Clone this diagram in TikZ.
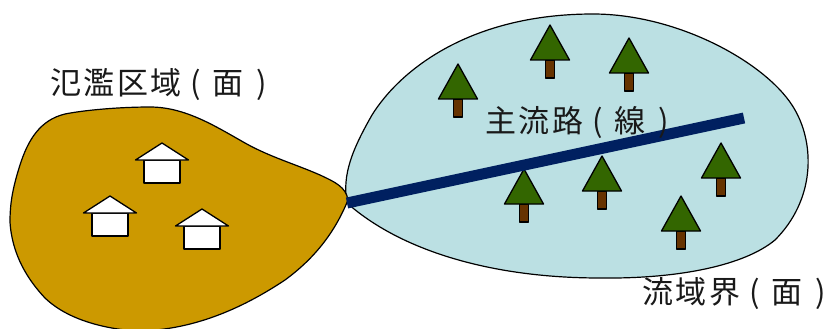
\documentclass[tikz,border=0pt]{standalone}
\usepackage{fontspec}
\newfontfamily\cjk[LetterSpace=8]{Noto Sans CJK JP}
\definecolor{flood}{HTML}{CC9900}
\definecolor{basin}{HTML}{BBE0E3}
\definecolor{river}{HTML}{002060}
\definecolor{leaf}{HTML}{336600}
\definecolor{trunk}{HTML}{663300}
\newcommand{\parenL}{\hspace{0.3em}(\hspace{0.36em}}
\newcommand{\parenR}{\hspace{0.42em})}
\tikzset{
  outline/.style={draw=black,line width=1.3pt,line join=round},
  label text/.style={font=\cjk\fontsize{31}{33}\selectfont,text=black!90,inner sep=0pt,anchor=west},
  tree/.pic={
    \draw[outline,fill=trunk] (-4.3,35) rectangle (4.3,53);
    \draw[outline,fill=leaf] (0,0) -- (-19.5,35) -- (19.5,35) -- cycle;
  },
  house/.pic={
    \draw[outline,fill=white] (-18,17) rectangle (18,40);
    \draw[outline,fill=white] (0,0) -- (-26.5,17) -- (26.5,17) -- cycle;
  }
}
\begin{document}
\begin{tikzpicture}[x=1pt,y=-1pt]
\useasboundingbox (0,0) rectangle (828,329);
\path[clip] (0,0) rectangle (828,329);
% basin
\draw[line width=1.2pt,fill=basin]
  (347,203) .. controls (342,175) and (352,150) .. (372,115)
  .. controls (400,70) and (470,14) .. (593,14)
  .. controls (680,14) and (770,65) .. (795,110)
  .. controls (815,145) and (815,200) .. (775,240)
  .. controls (745,265) and (680,279) .. (600,278)
  .. controls (490,278) and (400,250) .. (347,203) -- cycle;
% flood plain
\draw[line width=1.2pt,fill=flood]
  (348,200) .. controls (346,187) and (335,182) .. (320,175)
  .. controls (295,164) and (270,157) .. (245,143)
  .. controls (215,126) and (185,107) .. (150,107)
  .. controls (120,107) and (85,110) .. (65,114)
  .. controls (40,120) and (28,140) .. (20,165)
  .. controls (12,190) and (10,205) .. (10,222)
  .. controls (12,255) and (28,280) .. (45,298)
  .. controls (70,322) and (110,329) .. (135,331)
  .. controls (190,331) and (240,310) .. (285,280)
  .. controls (315,258) and (335,232) .. (348,200) -- cycle;
% river
\coordinate (riverA) at (347,203);
\coordinate (riverB) at (744,118);
% houses
\pic at (162,143) {house};
\pic at (110,196) {house};
\pic at (202,209) {house};
% trees
\pic at (458,64) {tree};
\pic at (550,25) {tree};
\pic at (629,38) {tree};
\pic at (524,169) {tree};
\pic at (602,156) {tree};
\pic at (721,143) {tree};
\pic at (681,196) {tree};
\draw[river,line width=11pt] (riverA) -- (riverB);
% labels
\node[label text] (floodlabel) at (50,85) {氾濫区域\parenL 面\parenR};
\node[label text] (riverlabel) at (485,123) {主流路\parenL 線\parenR};
\node[label text] (basinlabel) at (642,294) {流域界\parenL 面\parenR};
\end{tikzpicture}
\end{document}
